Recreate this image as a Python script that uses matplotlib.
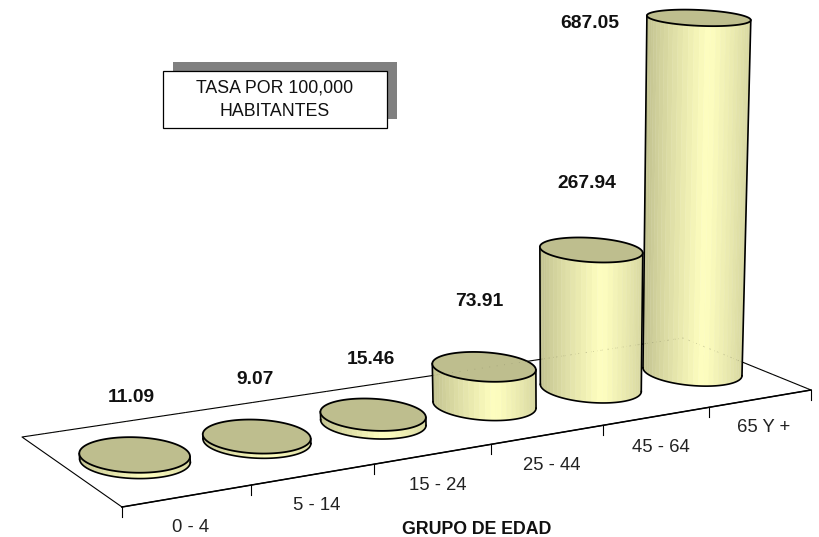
import numpy as np
import matplotlib
matplotlib.use('Agg')
import matplotlib.pyplot as plt
from matplotlib.patches import Polygon, Rectangle

plt.rcParams['font.family'] = ['Liberation Sans', 'DejaVu Sans']

# datos
grupos = ['0 - 4', '5 - 14', '15 - 24', '25 - 44', '45 - 64', '65 Y +']
tasas = [11.09, 9.07, 15.46, 73.91, 267.94, 687.05]
etiquetas = ['11.09', '9.07', '15.46', '73.91', '267.94', '687.05']

# posicion de las etiquetas (puestas a mano en el original)
etiq_x = [131, 255, 371, 479, 587, 590]
etiq_y = [397, 379, 360, 302, 183, 24]
grupo_x = [191, 317, 438, 552, 661, 764]
grupo_y = [528, 505, 485, 465, 448, 428]

# proyeccion del piso: (u, v) -> pixel
esquinas_uv = [(0, 0), (6, 0), (0, 1), (6, 1)]
esquinas_px = [(122, 507), (811, 390), (22, 437), (683, 338)]
A = []
b = []
for (u, v), (px, py) in zip(esquinas_uv, esquinas_px):
    A.append([u, v, 1, 0, 0, 0, -u * px, -v * px])
    A.append([0, 0, 0, u, v, 1, -u * py, -v * py])
    b += [px, py]
h = np.linalg.solve(np.array(A, float), np.array(b, float))
H = np.append(h, 1).reshape(3, 3)


def piso(u, v):
    u = np.asarray(u, float)
    v = np.asarray(v, float)
    # ajuste fino del espaciado entre marcas
    u = u - 0.0056 * u * (6 - u)
    w = H[2, 0] * u + H[2, 1] * v + H[2, 2]
    return (H[0, 0] * u + H[0, 1] * v + H[0, 2]) / w, (H[1, 0] * u + H[1, 1] * v + H[1, 2]) / w


escala = 0.515   # px por unidad
ru = 0.395
rv = 0.235
du = 0.01
paso = 0.992
v0 = 0.5
inclina = 0.03


def tapa(x, y, alto):
    # la parte alta se abre un poco y el circulo se ve mas plano
    cy = y.mean()
    x2 = x + (x - 564) * 0.00014 * alto
    y2 = cy + (y - cy) * (1 - 0.0012 * alto) - alto
    return x2, y2


def color_lado(f):
    # f va de 0 (izq) a 1 (der)
    luz = np.clip(1 - abs(f - 0.58) / 0.58, 0, 1) ** 0.8
    c0 = np.array([192, 192, 142]) / 255
    c1 = np.array([255, 255, 192]) / 255
    return c0 + (c1 - c0) * luz


fig = plt.figure(figsize=(8.2, 5.37), dpi=100)
ax = fig.add_axes([0, 0, 1, 1])
ax.set_xlim(0, 820)
ax.set_ylim(537, 0)
ax.axis('off')

# piso
xs, ys = piso([0, 6, 6, 0, 0], [0, 0, 1, 1, 0])
ax.plot(xs, ys, color='black', lw=0.8, zorder=1)
xs, ys = piso([0, 6], [0, 0])
ax.plot(xs, ys, color='black', lw=1.1, zorder=1)

# marcas del eje
for i in range(len(grupos) + 1):
    x0, y0 = piso(i, 0)
    ax.plot([x0, x0], [y0, y0 + 10], color='black', lw=0.8, zorder=1)

t = np.linspace(0, 2 * np.pi, 181)
for i, valor in enumerate(tasas):
    alto = valor * escala
    z = 10 + i
    x, y = piso(i * paso + 0.5 + du + ru * np.cos(t), v0 + rv * np.sin(t))
    y = y + inclina * (x - x.mean())
    xt, yt = tapa(x, y, alto)
    k0 = np.argmin(x[:-1])
    k1 = np.argmax(x[:-1])
    # arco del frente: el que va por debajo (y mayor)
    if k0 < k1:
        idx1 = np.arange(k0, k1 + 1)
        idx2 = np.r_[np.arange(k1, 180), np.arange(0, k0 + 1)]
    else:
        idx1 = np.arange(k1, k0 + 1)[::-1]
        idx2 = np.r_[np.arange(k0, 180), np.arange(0, k1 + 1)]
    frente = idx1 if y[idx1].mean() > y[idx2].mean() else idx2[::-1]
    # lado en tiras
    for j in range(0, len(frente) - 1, 3):
        a = frente[j]
        c = frente[min(j + 3, len(frente) - 1)]
        f = (x[a] - x[k0]) / (x[k1] - x[k0])
        ax.add_patch(Polygon([(x[a], y[a]), (x[c], y[c]), (xt[c], yt[c]), (xt[a], yt[a])],
                             closed=True, facecolor=color_lado(f), edgecolor=color_lado(f),
                             lw=0.3, zorder=z))
    ax.plot(x[frente], y[frente], color='black', lw=1.2, zorder=z + 0.2)
    ax.plot([x[k0], xt[k0]], [y[k0], yt[k0]], color='black', lw=1.2, zorder=z + 0.2)
    ax.plot([x[k1], xt[k1]], [y[k1], yt[k1]], color='black', lw=1.2, zorder=z + 0.2)
    ax.add_patch(Polygon(np.c_[xt, yt], closed=True, facecolor='#BEBE8E', edgecolor='black',
                         lw=1.3, zorder=z + 0.3))

# linea del piso que se transparenta
xs, ys = piso([0, 6, 6], [1, 1, 0])
ax.plot(xs, ys, color='#808060', lw=0.6, ls=(0, (1, 8)), alpha=0.45, zorder=30)

# recuadro
ax.add_patch(Rectangle((173, 62), 224, 57, facecolor='#808080', edgecolor='none', zorder=40))
ax.add_patch(Rectangle((163, 71), 224, 57, facecolor='white', edgecolor='black', lw=0.9, zorder=41))
ax.text(275, 88, 'TASA POR 100,000', ha='center', va='center', fontsize=12.8, color='#111111', zorder=42)
ax.text(275, 111, 'HABITANTES', ha='center', va='center', fontsize=12.8, color='#111111', zorder=42)

# textos
for xe, ye, txt in zip(etiq_x, etiq_y, etiquetas):
    ax.text(xe, ye, txt, ha='center', va='center', fontsize=13.9, fontweight='bold', color='#111111', zorder=50)
for xe, ye, txt in zip(grupo_x, grupo_y, grupos):
    ax.text(xe, ye, txt, ha='center', va='center', fontsize=13.3, color='#222222', zorder=50)
ax.text(477, 529, 'GRUPO DE EDAD', ha='center', va='center', fontsize=12.8, fontweight='bold', color='#111111', zorder=50)

fig.savefig('out.png', dpi=100)
